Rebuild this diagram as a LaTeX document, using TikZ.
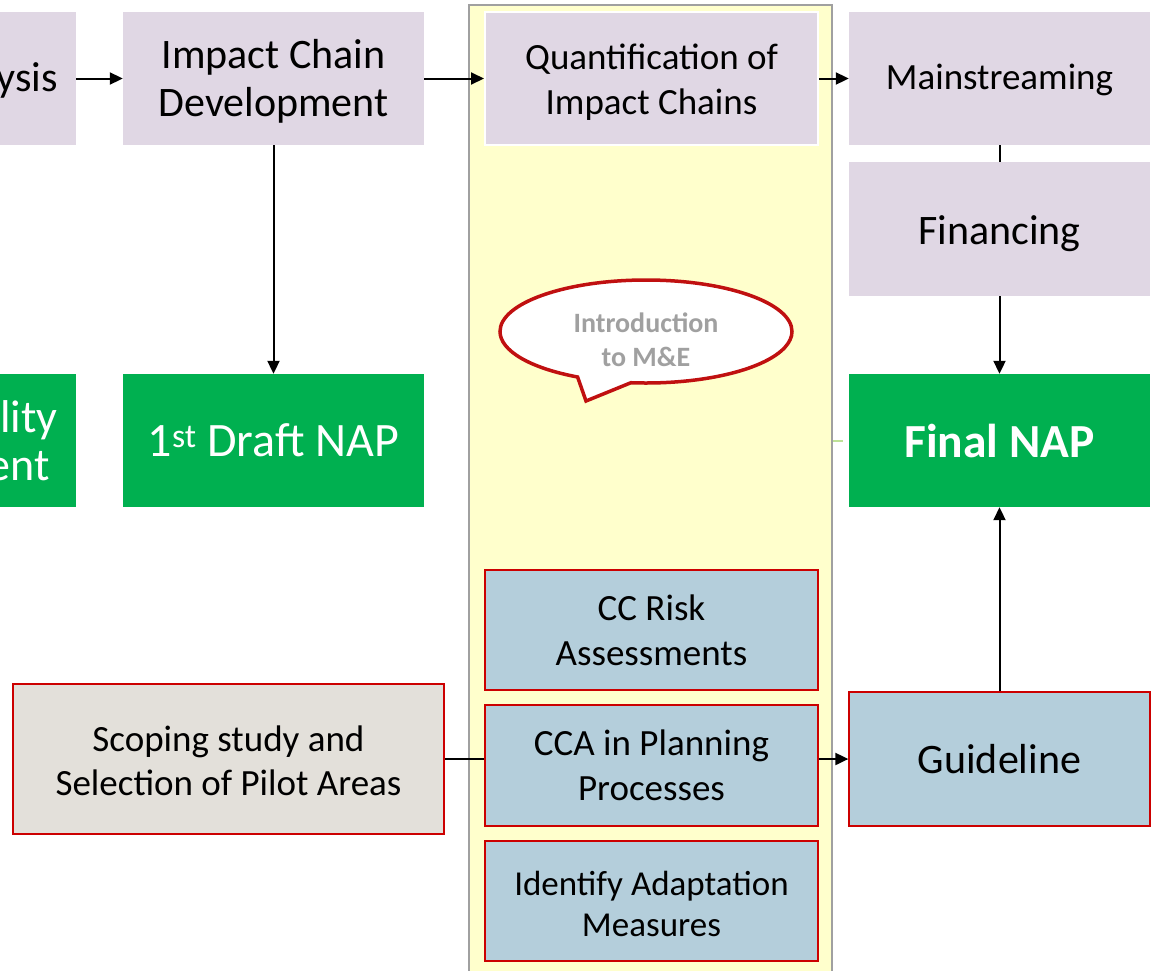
\documentclass[tikz,border=0pt]{standalone}
\usepackage{fontspec}
\setmainfont{Carlito}
\usetikzlibrary{arrows.meta,shapes.callouts}

\definecolor{lav}{RGB}{224,215,228}
\definecolor{grn}{RGB}{0,176,80}
\definecolor{blu}{RGB}{180,206,219}
\definecolor{beige}{RGB}{227,224,218}
\definecolor{yel}{RGB}{255,255,204}
\definecolor{panelgray}{RGB}{160,160,160}
\definecolor{redb}{RGB}{204,0,0}
\definecolor{bubred}{RGB}{192,16,16}
\definecolor{bubtext}{RGB}{160,160,160}
\definecolor{stubgreen}{RGB}{190,225,150}

\newcommand{\fsz}[2]{\fontsize{#1}{#2}\selectfont}
% invisible strut that lifts the top of a first line
\newcommand{\topstrut}[1]{\rule{0pt}{#1}}

\tikzset{
  box/.style={rectangle, inner sep=0pt, align=center},
  lavbox/.style={box, fill=lav},
  grnbox/.style={box, fill=grn, text=white},
  blubox/.style={box, fill=blu, draw=redb, line width=1.3pt},
  scopebox/.style={box, fill=beige, draw=redb, line width=1.3pt},
  arr/.style={line width=2pt, -{Triangle[length=13pt,width=12pt]}},
  link/.style={line width=2pt},
}

\begin{document}
\begin{tikzpicture}[x=1pt, y=-1pt]
\useasboundingbox (0,0) rectangle (1153,970);

% yellow column behind the middle steps
\node[box, fill=yel, draw=panelgray, line width=2pt,
      minimum width=363, minimum height=985] (panel) at (650.5,497.5) {};

% top row
\node[lavbox, minimum width=136, minimum height=133] (ana) at (8,78.5) {};
\node[anchor=base east, inner sep=0pt, font=\fsz{42}{48}] (anatext) at (58,91) {ysis};

\node[lavbox, minimum width=301, minimum height=133, font=\fsz{42}{48}]
  (imp) at (273.5,78.5) {\topstrut{35pt}Impact Chain\\Development};

\node[lavbox, draw=white, line width=2pt, minimum width=333, minimum height=133,
      font=\fsz{37}{45}] (quant) at (651.5,78.5) {\topstrut{33pt}Quantification of\\Impact Chains};

\node[lavbox, minimum width=301, minimum height=133, font=\fsz{37}{44},
      text height=26pt, text depth=5pt]
  (main) at (999.5,78.5) {Mainstreaming};

\node[lavbox, minimum width=301, minimum height=134, font=\fsz{42}{48},
      text height=36pt, text depth=5pt]
  (fin) at (999.5,229) {Financing};

% green row
\node[grnbox, minimum width=136, minimum height=133] (vul) at (8,440.5) {};
\node[anchor=base east, inner sep=0pt, text=white, font=\fsz{46}{50}] (vultextA) at (58,432) {ility};
\node[anchor=base east, inner sep=0pt, text=white, font=\fsz{46}{50}] (vultextB) at (50,480) {ent};

\node[grnbox, minimum width=301, minimum height=133, font=\fsz{48}{52}]
  (draft) at (273.5,440.5) {1\textsuperscript{st} Draft NAP};

\node[grnbox, minimum width=301, minimum height=133, font=\fsz{47.5}{52}\bfseries]
  (final) at (999.5,440.5) {Final NAP};

% speech bubble
\node[ellipse callout, draw=bubred, line width=3.5pt, fill=white,
      minimum width=292, minimum height=103, inner sep=0pt,
      callout absolute pointer={(586,401)}, callout pointer arc=22,
      align=center, text=bubtext, font=\fsz{28}{34}\bfseries]
  (bubble) at (646,331.5) {\topstrut{36pt}Introduction\\to M\&E};

% lower part
\node[blubox, minimum width=333, minimum height=120, font=\fsz{37}{45}]
  (risk) at (651.5,630) {CC Risk\\Assessments};
\node[blubox, minimum width=333, minimum height=121, font=\fsz{37}{45}]
  (cca) at (651.5,765.5) {CCA in Planning\\Processes};
\node[blubox, minimum width=333, minimum height=120, font=\fsz{35}{41}]
  (ident) at (651.5,901) {\topstrut{30pt}Identify Adaptation\\Measures};

\node[scopebox, minimum width=431, minimum height=150, font=\fsz{37}{44}]
  (scope) at (228.5,759) {\topstrut{29pt}Scoping study and\\Selection of Pilot Areas};

\node[blubox, minimum width=301, minimum height=134, font=\fsz{42}{48}]
  (guide) at (999.5,759) {Guideline};

% connectors
\draw[arr] (ana.east) -- (imp.west);
\draw[arr] (imp.east) -- (quant.west);
\draw[arr] (quant.east) -- (main.west);
\draw[link] (main.south) -- (fin.north);
\draw[arr] (fin.south) -- (final.north);
\draw[arr] (imp.south) -- (draft.north);
\draw[arr] (guide.north) -- (final.south);
\draw[link] (scope.east) -- (scope.east -| cca.west);
\draw[arr] (guide.west -| cca.east) -- (guide.west);

% faint stub at the column edge
\coordinate (stubA) at (833,441);
\coordinate (stubB) at (843,441);
\draw[stubgreen, line width=1.5pt] (stubA) -- (stubB);
\end{tikzpicture}
\end{document}
